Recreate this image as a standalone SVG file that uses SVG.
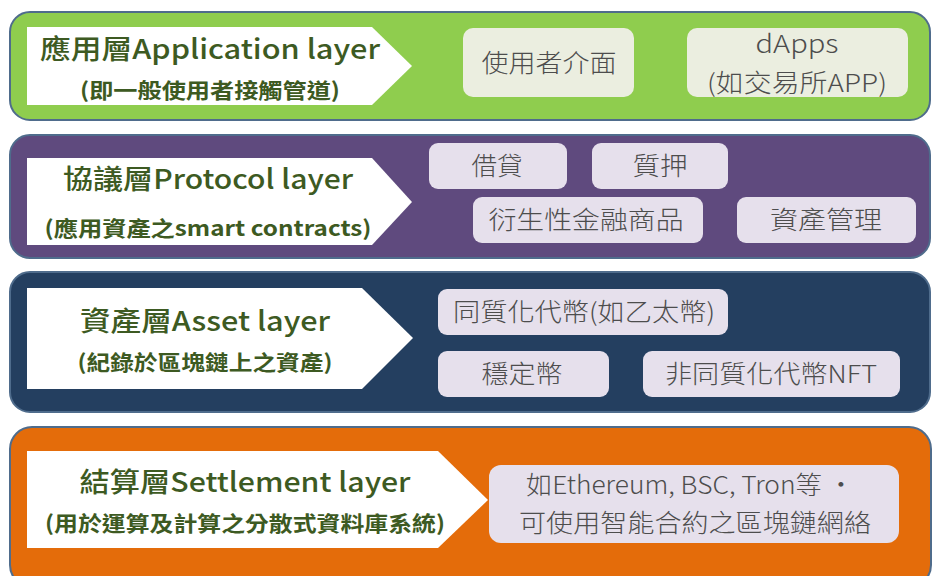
<svg xmlns="http://www.w3.org/2000/svg" width="933" height="576" viewBox="0 0 933 576">
<style>
.band{stroke:#4f6c8c;stroke-width:2}
.arrow{fill:#ffffff}
.title{font-family:"Noto Sans CJK TC","Noto Sans",sans-serif;font-weight:500;fill:#3d5a22;font-size:27px;text-anchor:middle}
.sub{font-family:"Noto Sans CJK TC","Noto Sans",sans-serif;font-weight:700;fill:#3d5a22;font-size:21px;text-anchor:middle}
.item{font-family:"Noto Sans CJK TC","Noto Sans",sans-serif;font-weight:300;fill:#4d4d4d;font-size:25px;text-anchor:middle}
.g1box{fill:#ebeee0}
.pbox{fill:#e6e0ec}
</style>
<rect width="933" height="576" fill="#ffffff"/>

<g id="application-layer">
<rect class="band" x="10" y="12" width="920" height="108" rx="20" fill="#8fcd4e"/>
<polygon class="arrow" points="27,27 372,27 412,66 372,105 27,105"/>
<text class="title" x="210" y="59" textLength="340" lengthAdjust="spacingAndGlyphs">應用層Application layer</text>
<text class="sub" x="210" y="98" textLength="260" lengthAdjust="spacingAndGlyphs">(即一般使用者接觸管道)</text>
</g>
<g id="ui"><rect class="g1box" x="463" y="28" width="171" height="69" rx="10"/><text class="item" x="549" y="72" textLength="135" lengthAdjust="spacingAndGlyphs">使用者介面</text></g>
<g id="dapps"><rect class="g1box" x="687" y="28" width="221" height="69" rx="10"/><text class="item" x="797" y="53" textLength="83" lengthAdjust="spacingAndGlyphs">dApps</text><text class="item" x="797" y="92" textLength="180" lengthAdjust="spacingAndGlyphs">(如交易所APP)</text></g>

<g id="protocol-layer">
<rect class="band" x="10" y="135" width="920" height="123" rx="20" fill="#5f4a7e"/>
<polygon class="arrow" points="27,158 372,158 412,202 372,245 27,245"/>
<text class="title" x="208" y="189" textLength="290" lengthAdjust="spacingAndGlyphs">協議層Protocol layer</text>
<text class="sub" x="208" y="236" textLength="327" lengthAdjust="spacingAndGlyphs">(應用資產之smart contracts)</text>
</g>
<g id="lending"><rect class="pbox" x="429" y="143" width="138" height="46" rx="9"/><text class="item" x="497" y="175" textLength="51" lengthAdjust="spacingAndGlyphs">借貸</text></g>
<g id="staking"><rect class="pbox" x="592" y="143" width="136" height="46" rx="9"/><text class="item" x="660" y="175" textLength="55" lengthAdjust="spacingAndGlyphs">質押</text></g>
<g id="derivatives"><rect class="pbox" x="473" y="197" width="230" height="46" rx="9"/><text class="item" x="586" y="229" textLength="195" lengthAdjust="spacingAndGlyphs">衍生性金融商品</text></g>
<g id="asset-mgmt"><rect class="pbox" x="737" y="197" width="179" height="46" rx="9"/><text class="item" x="826" y="229" textLength="112" lengthAdjust="spacingAndGlyphs">資產管理</text></g>

<g id="asset-layer">
<rect class="band" x="10" y="272" width="920" height="140" rx="20" fill="#243f60"/>
<polygon class="arrow" points="27,288 362,288 413,338 362,389 27,389"/>
<text class="title" x="205" y="331" textLength="250" lengthAdjust="spacingAndGlyphs">資產層Asset layer</text>
<text class="sub" x="205" y="370" textLength="255" lengthAdjust="spacingAndGlyphs">(紀錄於區塊鏈上之資產)</text>
</g>
<g id="fungible"><rect class="pbox" x="438" y="289" width="290" height="46" rx="9"/><text class="item" x="584" y="321" textLength="262" lengthAdjust="spacingAndGlyphs">同質化代幣(如乙太幣)</text></g>
<g id="stablecoin"><rect class="pbox" x="438" y="351" width="171" height="46" rx="9"/><text class="item" x="522" y="383" textLength="81" lengthAdjust="spacingAndGlyphs">穩定幣</text></g>
<g id="nft"><rect class="pbox" x="643" y="351" width="257" height="46" rx="9"/><text class="item" x="771" y="383" textLength="212" lengthAdjust="spacingAndGlyphs">非同質化代幣NFT</text></g>

<g id="settlement-layer">
<rect class="band" x="10" y="427" width="921" height="160" rx="22" fill="#e46c0a"/>
<polygon class="arrow" points="27,451 438,451 488,500 438,548 27,548"/>
<text class="title" x="245" y="492" textLength="331" lengthAdjust="spacingAndGlyphs">結算層Settlement layer</text>
<text class="sub" x="245" y="531" textLength="400" lengthAdjust="spacingAndGlyphs">(用於運算及計算之分散式資料庫系統)</text>
</g>
<g id="chains"><rect class="pbox" x="489" y="465" width="410" height="78" rx="12"/><text class="item" x="690" y="494" textLength="328" lengthAdjust="spacingAndGlyphs">如Ethereum, BSC, Tron等 ·</text><text class="item" x="695" y="532" textLength="352" lengthAdjust="spacingAndGlyphs">可使用智能合約之區塊鏈網絡</text></g>

<g id="connectors"></g>
</svg>
